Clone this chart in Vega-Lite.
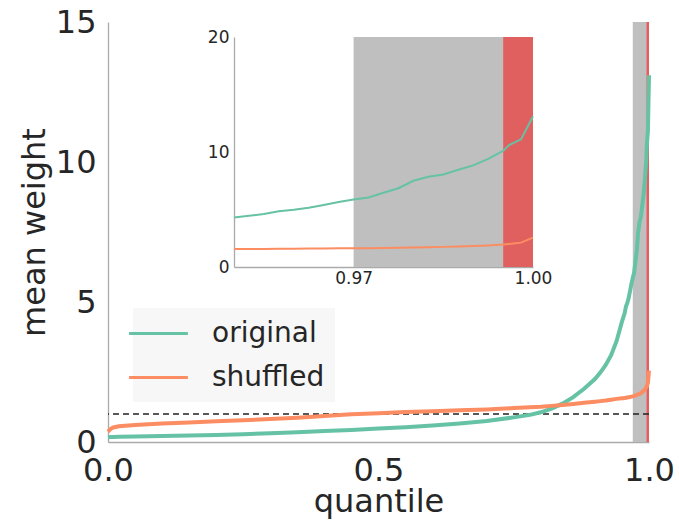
{
  "$schema": "https://vega.github.io/schema/vega-lite/v6.json",
  "width": 541,
  "height": 420,
  "autosize": {"type": "none"},
  "padding": {"left": 108, "top": 22, "right": 30, "bottom": 79},
  "background": "white",
  "config": {
    "font": "DejaVu Sans",
    "view": {"stroke": null},
    "axis": {"grid": false, "ticks": false, "domainColor": "#aaaaaa", "domainWidth": 1.3, "labelColor": "#262626", "titleColor": "#262626", "titleFontWeight": "normal", "labelFont": "DejaVu Sans", "titleFont": "DejaVu Sans"},
    "legend": {"labelFont": "DejaVu Sans"}
  },
  "data": {"values": [
    {"q": 0.0, "original": 0.17, "shuffled": 0.37},
    {"q": 0.005, "original": 0.18, "shuffled": 0.47},
    {"q": 0.01, "original": 0.18, "shuffled": 0.52},
    {"q": 0.02, "original": 0.19, "shuffled": 0.56},
    {"q": 0.05, "original": 0.2, "shuffled": 0.61},
    {"q": 0.1, "original": 0.21, "shuffled": 0.66},
    {"q": 0.15, "original": 0.23, "shuffled": 0.7},
    {"q": 0.2, "original": 0.25, "shuffled": 0.74},
    {"q": 0.25, "original": 0.28, "shuffled": 0.78},
    {"q": 0.3, "original": 0.31, "shuffled": 0.82},
    {"q": 0.35, "original": 0.35, "shuffled": 0.87},
    {"q": 0.4, "original": 0.39, "shuffled": 0.93},
    {"q": 0.45, "original": 0.43, "shuffled": 0.99},
    {"q": 0.5, "original": 0.48, "shuffled": 1.03},
    {"q": 0.55, "original": 0.53, "shuffled": 1.07},
    {"q": 0.6, "original": 0.59, "shuffled": 1.1},
    {"q": 0.65, "original": 0.66, "shuffled": 1.13},
    {"q": 0.7, "original": 0.75, "shuffled": 1.16},
    {"q": 0.75, "original": 0.88, "shuffled": 1.21},
    {"q": 0.78, "original": 0.97, "shuffled": 1.24},
    {"q": 0.8, "original": 1.06, "shuffled": 1.26},
    {"q": 0.82, "original": 1.19, "shuffled": 1.29},
    {"q": 0.84, "original": 1.37, "shuffled": 1.32},
    {"q": 0.86, "original": 1.6, "shuffled": 1.36},
    {"q": 0.88, "original": 1.9, "shuffled": 1.4},
    {"q": 0.9, "original": 2.25, "shuffled": 1.44},
    {"q": 0.91, "original": 2.48, "shuffled": 1.46},
    {"q": 0.92, "original": 2.75, "shuffled": 1.48},
    {"q": 0.93, "original": 3.1, "shuffled": 1.51},
    {"q": 0.94, "original": 3.6, "shuffled": 1.54},
    {"q": 0.95, "original": 4.3, "shuffled": 1.56},
    {"q": 0.9525, "original": 4.45, "shuffled": 1.56},
    {"q": 0.955, "original": 4.6, "shuffled": 1.57},
    {"q": 0.9575, "original": 4.85, "shuffled": 1.58},
    {"q": 0.96, "original": 4.97, "shuffled": 1.59},
    {"q": 0.9625, "original": 5.15, "shuffled": 1.6},
    {"q": 0.965, "original": 5.4, "shuffled": 1.61},
    {"q": 0.9675, "original": 5.65, "shuffled": 1.62},
    {"q": 0.97, "original": 5.86, "shuffled": 1.63},
    {"q": 0.9725, "original": 6.05, "shuffled": 1.64},
    {"q": 0.975, "original": 6.45, "shuffled": 1.66},
    {"q": 0.9775, "original": 6.85, "shuffled": 1.68},
    {"q": 0.98, "original": 7.5, "shuffled": 1.7},
    {"q": 0.9825, "original": 7.85, "shuffled": 1.72},
    {"q": 0.985, "original": 8.05, "shuffled": 1.75},
    {"q": 0.9875, "original": 8.45, "shuffled": 1.78},
    {"q": 0.99, "original": 8.84, "shuffled": 1.83},
    {"q": 0.9925, "original": 9.4, "shuffled": 1.88},
    {"q": 0.995, "original": 10.1, "shuffled": 1.95},
    {"q": 0.996, "original": 10.6, "shuffled": 2.0},
    {"q": 0.998, "original": 11.1, "shuffled": 2.12},
    {"q": 1.0, "original": 13.1, "shuffled": 2.55}
  ]},
  "layer": [
    {
      "layer": [
        {
          "data": {"values": [{}]},
          "mark": {"type": "rect", "color": "#bfbfbf"},
          "encoding": {
            "x": {"datum": 0.97, "type": "quantitative", "scale": {"domain": [0, 1], "nice": false}, "axis": {"title": "quantile"}},
            "x2": {"datum": 0.995}
          }
        },
        {
          "data": {"values": [{}]},
          "mark": {"type": "rect", "color": "#e06060"},
          "encoding": {
            "x": {"datum": 0.995, "type": "quantitative", "axis": {"title": "quantile"}},
            "x2": {"datum": 1.0}
          }
        },
        {
          "data": {"values": [{}]},
          "mark": {"type": "rule", "color": "#222222", "strokeDash": [6, 4], "strokeWidth": 1.3},
          "encoding": {
            "y": {"datum": 1, "type": "quantitative", "scale": {"domain": [0, 15], "nice": false}, "axis": {"title": "mean weight"}}
          }
        },
        {
          "transform": [{"fold": ["original", "shuffled"], "as": ["series", "weight"]}],
          "mark": {"type": "line", "strokeWidth": 4},
          "encoding": {
            "x": {"field": "q", "type": "quantitative", "axis": {"title": "quantile", "values": [0, 0.5, 1], "format": ".1f", "labelFontSize": 32, "labelPadding": 13, "labelFlush": false, "titleFontSize": 32, "titlePadding": 0}},
            "y": {"field": "weight", "type": "quantitative", "axis": {"title": "mean weight", "values": [0, 5, 10, 15], "labelFontSize": 32, "labelPadding": 12, "titleFontSize": 32, "titlePadding": 4}},
            "color": {
              "field": "series", "type": "nominal",
              "scale": {"domain": ["original", "shuffled"], "range": ["#66c2a5", "#fc8d62"]},
              "legend": {"orient": "none", "legendX": 25, "legendY": 286, "title": null, "fillColor": "#f7f7f7", "padding": 10, "labelFontSize": 28, "labelColor": "#262626", "symbolType": "M-2.1,0H2.1", "symbolSize": 784, "symbolStrokeWidth": 3, "labelOffset": 38, "rowPadding": 14, "offset": 0}
            }
          }
        }
      ]
    },
    {
      "layer": [
        {
          "data": {"values": [{}]},
          "mark": {"type": "rect", "color": "#bfbfbf"},
          "encoding": {
            "x": {"datum": 0.97, "type": "quantitative", "scale": {"domain": [0.95, 1], "range": [126, 425], "nice": false}},
            "x2": {"datum": 0.995},
            "y": {"datum": 0, "type": "quantitative", "scale": {"domain": [0, 20], "range": [245, 15], "nice": false}},
            "y2": {"datum": 20}
          }
        },
        {
          "data": {"values": [{}]},
          "mark": {"type": "rect", "color": "#e06060"},
          "encoding": {
            "x": {"datum": 0.995, "type": "quantitative"},
            "x2": {"datum": 1.0},
            "y": {"datum": 0, "type": "quantitative"},
            "y2": {"datum": 20}
          }
        },
        {
          "transform": [{"filter": "datum.q >= 0.95"}, {"fold": ["original", "shuffled"], "as": ["series", "weight"]}],
          "mark": {"type": "line", "strokeWidth": 2},
          "encoding": {
            "x": {"field": "q", "type": "quantitative", "axis": {"orient": "bottom", "offset": -175, "title": null, "values": [0.97, 1.0], "format": ".2f", "labelFontSize": 17, "labelPadding": 3, "labelFlush": false}},
            "y": {"field": "weight", "type": "quantitative", "axis": {"orient": "left", "offset": -126, "title": null, "values": [0, 10, 20], "labelFontSize": 17, "labelPadding": 5}},
            "color": {"field": "series", "type": "nominal"}
          }
        }
      ]
    }
  ],
  "resolve": {"scale": {"x": "independent", "y": "independent"}, "axis": {"x": "independent", "y": "independent"}}
}
